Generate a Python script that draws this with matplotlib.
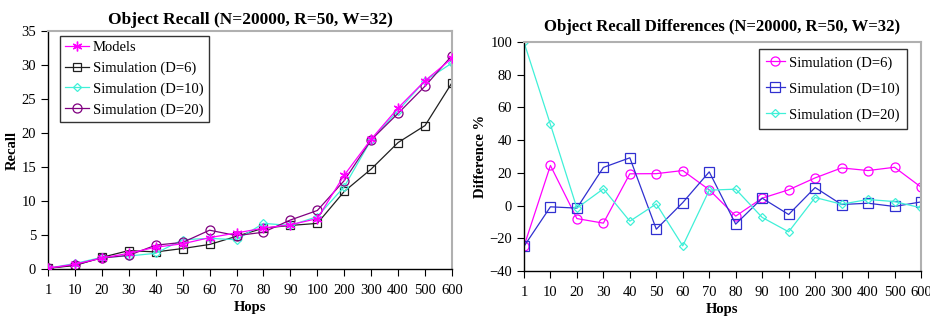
import matplotlib
matplotlib.use("Agg")
import matplotlib.pyplot as plt

hops = ["1", "10", "20", "30", "40", "50", "60", "70", "80", "90",
        "100", "200", "300", "400", "500", "600"]

# left panel: recall
models = [0.1, 0.7, 1.6, 2.3, 3.2, 3.7, 4.6, 5.3, 6.0, 6.5, 7.4, 13.8, 19.1, 23.7, 27.7, 31.0]
sim_d6 = [0.1, 0.5, 1.7, 2.7, 2.5, 3.0, 3.6, 4.8, 6.0, 6.4, 6.7, 11.4, 14.7, 18.6, 21.1, 27.4]
sim_d10 = [0.1, 0.8, 1.7, 1.9, 2.3, 4.3, 4.5, 4.3, 6.7, 6.4, 7.7, 12.1, 19.0, 23.3, 27.7, 30.3]
sim_d20 = [0.1, 0.6, 1.6, 2.0, 3.5, 3.9, 5.7, 4.9, 5.4, 7.2, 8.6, 13.0, 19.0, 22.9, 26.9, 31.4]

# right panel: differences (%)
diff_d6 = [-25.0, 24.5, -8.0, -10.8, 19.4, 19.5, 21.4, 9.6, -6.5, 4.5, 9.6, 16.9, 23.0, 21.4, 23.4, 11.3]
diff_d10 = [-25.0, -0.8, -1.6, 23.3, 29.2, -14.5, 1.8, 20.6, -11.4, 4.5, -5.5, 11.0, 0.6, 1.4, -0.6, 2.2]
diff_d20 = [100.0, 49.6, -1.6, 10.2, -9.6, 1.0, -24.7, 9.4, 10.0, -7.3, -16.1, 4.9, 0.8, 3.7, 2.4, -1.4]

MAGENTA = "#ff00ff"
CYAN = "#40f0d8"
PURPLE = "#800080"
BLUE = "#3030d0"
BLACK = "#202020"

plt.rcParams["font.family"] = ["Liberation Serif", "DejaVu Serif"]
plt.rcParams["font.size"] = 10.5

fig = plt.figure(figsize=(9.3, 3.24), dpi=100)
ax1 = fig.add_axes([0.0516, 0.170, 0.4344, 0.734])
ax2 = fig.add_axes([0.5634, 0.164, 0.4269, 0.706])

x = list(range(len(hops)))


def style(ax):
    for s in ("top", "right"):
        ax.spines[s].set_color("#b0b0b0")
        ax.spines[s].set_linewidth(1.5)
    for s in ("left", "bottom"):
        ax.spines[s].set_color("black")
        ax.spines[s].set_linewidth(1.0)
    ax.set_xlim(0, len(hops) - 1)
    ax.set_xticks(x)
    ax.set_xticklabels(hops)
    ax.tick_params(direction="out", length=5, width=0.8, labelsize=10.5)
    ax.tick_params(axis="x", pad=6)
    ax.set_xlabel("Hops", fontweight="bold", labelpad=3)


kw = dict(linewidth=0.9, markerfacecolor="none", markeredgewidth=0.9)

# ---- left: recall
ax1.plot(x, models, color=MAGENTA, marker=(6, 2, 0), markersize=7, linewidth=0.9,
         label="Models", zorder=4)
ax1.plot(x, sim_d6, color=BLACK, marker="s", markersize=6, label="Simulation (D=6)", **kw)
ax1.plot(x, sim_d10, color=CYAN, marker="D", markersize=4.5, label="Simulation (D=10)", **kw)
ax1.plot(x, sim_d20, color=PURPLE, marker="o", markersize=6.5, label="Simulation (D=20)", **kw)
style(ax1)
ax1.set_ylim(0, 35)
ax1.set_yticks(range(0, 36, 5))
ax1.set_ylabel("Recall", fontweight="bold", labelpad=2)
ax1.set_title("Object Recall (N=20000, R=50, W=32)", fontweight="bold", fontsize=12.5, pad=5)
leg = ax1.legend(loc="upper left", bbox_to_anchor=(0.03, 0.98), frameon=True, fancybox=False,
                 edgecolor="black", handlelength=1.6, handletextpad=0.3, borderpad=0.35,
                 labelspacing=0.5, fontsize=10.5, borderaxespad=0)
leg.get_frame().set_linewidth(1.0)

# ---- right: differences
ax2.plot(x, diff_d6, color=MAGENTA, marker="o", markersize=6.5, label="Simulation (D=6)", **kw)
ax2.plot(x, diff_d10, color=BLUE, marker="s", markersize=6.5, label="Simulation (D=10)", **kw)
ax2.plot(x, diff_d20, color=CYAN, marker="D", markersize=4.5, label="Simulation (D=20)", **kw)
style(ax2)
ax2.set_ylim(-40, 100)
ax2.set_yticks(range(-40, 101, 20))
ax2.set_ylabel("Difference %", fontweight="bold", labelpad=2)
ax2.set_title("Object Recall Differences (N=20000, R=50, W=32)", fontweight="bold",
              fontsize=12, pad=8)
leg2 = ax2.legend(loc="upper right", bbox_to_anchor=(0.965, 0.97), frameon=True, fancybox=False,
                  edgecolor="black", handlelength=1.3, handletextpad=0.3, borderpad=0.5,
                  labelspacing=0.85, fontsize=10.5, borderaxespad=0)
leg2.get_frame().set_linewidth(1.0)

fig.savefig("out.png", dpi=100)
